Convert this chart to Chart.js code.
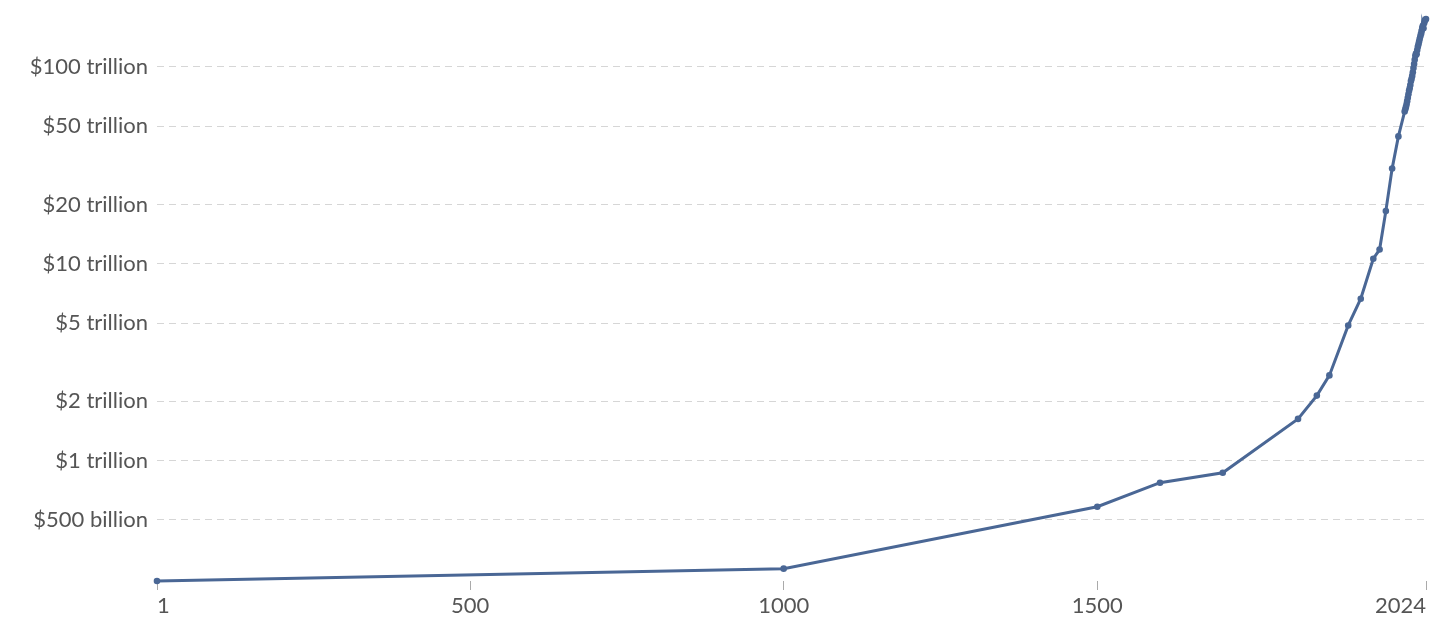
<!DOCTYPE html>
<html lang="en">

<head>
  <meta charset="UTF-8">
  <meta name="viewport" content="width=device-width, initial-scale=1.0">
  <title>World GDP over the long run</title>
  <script src="https://cdn.jsdelivr.net/npm/chart.js"></script>
  <style>
    html, body { margin: 0; padding: 0; background: #fff; }
    #grafico-box { width: 1456px; height: 637px; }
  </style>
</head>

<body>
<div id="grafico-box">
  <canvas id="GdpGrafico"></canvas>
</div>

<script>
  // anos da serie
  var anos = [1, 1000, 1500, 1600, 1700, 1820, 1850, 1870, 1900, 1920, 1940, 1950, 1960, 1970, 1980,
    1990, 1991, 1992, 1993, 1994, 1995, 1996, 1997, 1998, 1999,
    2000, 2001, 2002, 2003, 2004, 2005, 2006, 2007, 2008, 2009,
    2010, 2011, 2012, 2013, 2014, 2015, 2016, 2017, 2018, 2019,
    2020, 2021, 2022, 2023, 2024];

  // PIB mundial em trilhoes de dolares
  var pibTrilhoes = [0.245, 0.283, 0.584, 0.773, 0.869, 1.63, 2.14, 2.71, 4.86, 6.64, 10.6, 11.8, 18.5, 30.4, 44.3,
    59.3, 60.8, 62.5, 64.4, 66.9, 69.6, 72.5, 75.6, 77.8, 80.7,
    84.6, 87.0, 89.9, 93.7, 98.6, 103.2, 108.4, 113.8, 116.7, 115.9,
    121.6, 126.3, 130.2, 134.3, 138.6, 142.9, 147.2, 152.3, 157.5, 161.6,
    156.8, 166.2, 171.3, 173.1, 174.6];

  // ticks do eixo y (trilhoes) e seus rotulos
  var ticksY = [0.5, 1, 2, 5, 10, 20, 50, 100];
  var rotulosY = ['$500 billion', '$1 trillion', '$2 trillion', '$5 trillion',
    '$10 trillion', '$20 trillion', '$50 trillion', '$100 trillion'];

  // ticks do eixo x
  var ticksX = [1, 500, 1000, 1500, 2024];

  var pontos = [];
  for (var i = 0; i < anos.length; i++) {
    pontos.push({ x: anos[i], y: pibTrilhoes[i] });
  }

  var corLinha = '#4a6795';
  var corTexto = '#555555';

  const config = {
    type: 'line',
    data: {
      datasets: [{
        data: pontos,
        borderColor: corLinha,
        backgroundColor: corLinha,
        borderWidth: 3,
        pointRadius: 3.3,
        pointBorderWidth: 0,
        pointBackgroundColor: corLinha,
        tension: 0,
        clip: false
      }]
    },
    options: {
      responsive: true,
      maintainAspectRatio: false,
      animation: false,
      layout: { padding: { top: 10, right: 30, bottom: 0, left: 0 } },
      plugins: {
        legend: { display: false },
        tooltip: { enabled: false }
      },
      scales: {
        x: {
          type: 'linear',
          min: 1,
          max: 2024,
          bounds: 'data',
          afterBuildTicks: function (eixo) {
            eixo.ticks = ticksX.map(function (v) { return { value: v }; });
          },
          afterFit: function (eixo) { eixo.height = 56; },
          border: { display: false },
          grid: {
            drawOnChartArea: false,
            drawTicks: true,
            tickLength: 9,
            color: '#aaaaaa'
          },
          ticks: {
            autoSkip: false,
            maxRotation: 0,
            align: 'inner',
            padding: 3,
            color: corTexto,
            font: { family: 'Lato', size: 22 },
            callback: function (v) { return String(v); }
          }
        },
        y: {
          type: 'logarithmic',
          min: 0.245,
          max: 175,
          bounds: 'data',
          afterBuildTicks: function (eixo) {
            eixo.ticks = ticksY.map(function (v) { return { value: v }; });
          },
          afterFit: function (eixo) { eixo.width = 157; },
          border: { display: false, dash: [7, 5] },
          grid: {
            drawTicks: false,
            color: '#d6d6d6',
            lineWidth: 1
          },
          ticks: {
            padding: 9,
            color: corTexto,
            // lineHeight baixo so para o topo da area ficar em ~19px
            font: { family: 'Lato', size: 22, lineHeight: 0.9 },
            callback: function (v) {
              var idx = ticksY.indexOf(v);
              return idx >= 0 ? rotulosY[idx] : '';
            }
          }
        }
      }
    }
  };

  let meuGrafico = new Chart(document.getElementById('GdpGrafico'), config);
</script>
</body>

</html>
